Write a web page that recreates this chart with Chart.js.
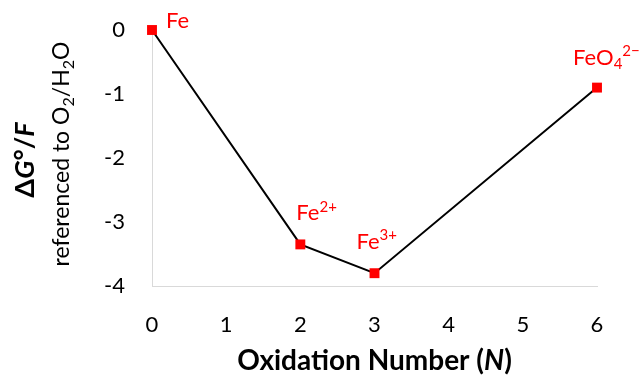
<!DOCTYPE html>
<html>
<head>
<meta charset="utf-8">
<script src="https://cdn.jsdelivr.net/npm/chart.js@4"></script>
<style>
  body { margin: 0; background: #fff; }
  canvas { display: block; }
</style>
</head>
<body>
<canvas id="chart" width="641" height="377"></canvas>
<script>
// Data
const oxidationNumbers = [0, 2, 3, 6];
const energies = [0, -3.35, -3.8, -0.9];
// species names as text pieces (sup / sub marked)
const species = [
  [{ t: 'Fe' }],
  [{ t: 'Fe' }, { t: '2+', sup: true }],
  [{ t: 'Fe' }, { t: '3+', sup: true }],
  [{ t: 'FeO' }, { t: '4', sub: true }, { t: '2\u2212', sup: true }]
];
const xTitle = [{ t: 'Oxidation Number (' }, { t: 'N', it: true }, { t: ')' }];
const yTitle1 = [{ t: '\u0394' }, { t: 'G', it: true }, { t: '\u00b0/' }, { t: 'F', it: true }];
const yTitle2 = [{ t: 'referenced to O' }, { t: '2', sub: true }, { t: '/H' }, { t: '2', sub: true }, { t: 'O' }];

// label offsets from each point (px)
const labelOffsets = [[14, -2], [-4, -24], [-18, -24], [-24, -23]];

const FONT = 'Lato, "Open Sans", sans-serif';

function partFont(p, size, weight) {
  const s = (p.sup || p.sub) ? Math.round(size * 0.68) : size;
  return (p.it ? 'italic ' : '') + weight + ' ' + s + 'px ' + FONT;
}

function richWidth(ctx, parts, size, weight) {
  let w = 0;
  parts.forEach(p => { ctx.font = partFont(p, size, weight); w += ctx.measureText(p.t).width; });
  return w;
}

// draw text with super/subscripts, x is left edge (or center if centered)
function drawRich(ctx, parts, x, y, size, color, weight, centered) {
  ctx.save();
  ctx.fillStyle = color;
  ctx.textBaseline = 'alphabetic';
  ctx.textAlign = 'left';
  let cx = centered ? x - richWidth(ctx, parts, size, weight) / 2 : x;
  parts.forEach(p => {
    ctx.font = partFont(p, size, weight);
    let dy = 0;
    if (p.sup) dy = -size * 0.4;
    if (p.sub) dy = size * 0.2;
    ctx.fillText(p.t, cx, y + dy);
    cx += ctx.measureText(p.t).width;
  });
  ctx.restore();
}

const extrasPlugin = {
  id: 'extras',
  afterDatasetsDraw(chart) {
    const ctx = chart.ctx;
    const xs = chart.scales.x, ys = chart.scales.y;
    species.forEach((parts, i) => {
      const px = xs.getPixelForValue(oxidationNumbers[i]);
      const py = ys.getPixelForValue(energies[i]);
      drawRich(ctx, parts, px + labelOffsets[i][0], py + labelOffsets[i][1], 22, '#ff0000', 'normal', false);
    });

    const area = chart.chartArea;
    // x axis title
    drawRich(ctx, xTitle, (area.left + area.right) / 2, 370, 28, '#000', 'bold', true);

    // y axis title, rotated
    ctx.save();
    ctx.translate(34, 160);
    ctx.rotate(-Math.PI / 2);
    drawRich(ctx, yTitle1, 0, 0, 27, '#000', 'bold', true);
    ctx.restore();
    ctx.save();
    ctx.translate(69, 154);
    ctx.rotate(-Math.PI / 2);
    drawRich(ctx, yTitle2, 0, 0, 23, '#000', 'normal', true);
    ctx.restore();
  }
};

const points = oxidationNumbers.map((n, i) => ({ x: n, y: energies[i] }));

new Chart(document.getElementById('chart'), {
  type: 'line',
  data: {
    datasets: [{
      data: points,
      borderColor: '#000',
      borderWidth: 2,
      tension: 0,
      pointStyle: 'rect',
      pointRadius: 7,
      pointHoverRadius: 7,
      pointBackgroundColor: '#ff0000',
      pointBorderWidth: 0,
      clip: false
    }]
  },
  options: {
    responsive: false,
    animation: false,
    devicePixelRatio: 1,
    layout: { padding: { top: 30, right: 44, left: 0, bottom: 0 } },
    plugins: { legend: { display: false }, tooltip: { enabled: false } },
    scales: {
      x: {
        type: 'linear',
        min: 0, max: 6,
        afterFit(s) { s.height = 91; s.paddingLeft = 0; s.paddingRight = 0; },
        grid: { display: false, drawTicks: false },
        border: { display: true, color: '#d9d9d9', width: 1 },
        ticks: { stepSize: 1, padding: 26, color: '#000', font: { family: FONT, size: 22 } }
      },
      y: {
        min: -4, max: 0,
        afterFit(s) { s.width = 152; s.paddingTop = 0; s.paddingBottom = 0; },
        grid: { display: false, drawTicks: false },
        border: { display: true, color: '#d9d9d9', width: 1 },
        ticks: { stepSize: 1, padding: 27, color: '#000', font: { family: FONT, size: 22 } }
      }
    }
  },
  plugins: [extrasPlugin]
});
</script>
</body>
</html>
